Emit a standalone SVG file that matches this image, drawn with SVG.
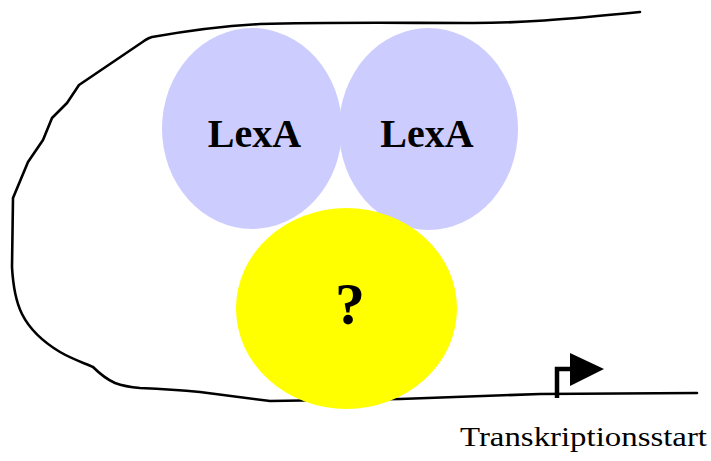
<svg xmlns="http://www.w3.org/2000/svg" width="711" height="461" viewBox="0 0 711 461">
<style>
.dna{fill:none;stroke:#000;stroke-width:2.6;stroke-linejoin:round;stroke-linecap:round}
.lexa{fill:#ccccff}
.q{fill:#ffff00}
.lbl{font-family:"Liberation Serif","Times New Roman",serif;font-weight:bold;fill:#000;text-anchor:middle}
.cap{font-family:"Liberation Serif","Times New Roman",serif;fill:#000}
</style>
<rect width="711" height="461" fill="#fff"/>
<g id="connectors">
<path class="dna" d="M640,12 C560,20 520,23 473,23 C400,23 330,22 260,24 C220,26 180,32 152,37 C148,38 147,39 144,41 L79,85 L67,103 L52,118 L43,140 L28,162 L13,198 L12,267 C13,285 15,300 22,314 C30,330 45,343 60,352 C72,359 84,363 93,367 C100,374 106,379 115,383 C123,386 128,387 140,388 C165,389 180,390 200,392 L270,401 L400,399 L540,394 L697,393"/>
<path d="M557,398 L557,369 L572,369" fill="none" stroke="#000" stroke-width="4.5"/>
<polygon points="570,353 604,369 570,386" fill="#000"/>
</g>
<g id="lexa1">
<ellipse class="lexa" cx="252" cy="128.5" rx="90" ry="100.5"/>
<text class="lbl" x="254.5" y="147" font-size="40">LexA</text>
</g>
<g id="lexa2">
<ellipse class="lexa" cx="428.5" cy="129" rx="89.5" ry="101"/>
<text class="lbl" x="427" y="147" font-size="40">LexA</text>
</g>
<g id="unknown">
<ellipse class="q" cx="346.5" cy="308.5" rx="110.5" ry="100.5"/>
<text class="lbl" x="350" y="324" font-size="60">?</text>
</g>
<text class="cap" x="460" y="446" font-size="28" textLength="247" lengthAdjust="spacingAndGlyphs">Transkriptionsstart</text>
</svg>
